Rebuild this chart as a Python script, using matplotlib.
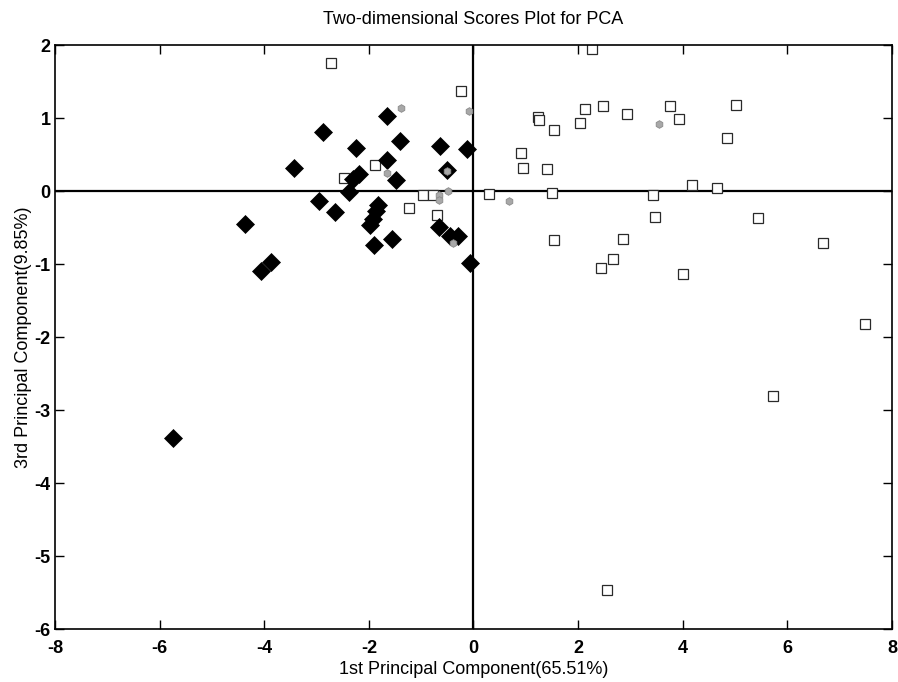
import matplotlib
matplotlib.use("Agg")
import matplotlib.pyplot as plt

plt.rcParams["font.family"] = ["Liberation Sans", "DejaVu Sans"]
plt.rcParams["axes.unicode_minus"] = False

# group 1: filled black diamonds
diamond_x = [-5.75, -4.37, -3.87, -4.06, -3.44, -2.88, -2.25, -2.18, -2.30, -2.38,
             -2.95, -2.65, -1.65, -1.41, -1.65, -1.48, -1.82, -1.86, -1.92, -1.97,
             -1.56, -1.90, -0.64, -0.13, -0.51, -0.65, -0.44, -0.29, -0.07]
diamond_y = [-3.38, -0.45, -0.97, -1.10, 0.32, 0.81, 0.59, 0.23, 0.16, -0.01,
             -0.13, -0.29, 1.03, 0.68, 0.43, 0.15, -0.19, -0.28, -0.39, -0.46,
             -0.66, -0.74, 0.62, 0.58, 0.29, -0.49, -0.61, -0.62, -0.99]

# group 2: open squares
square_x = [-2.73, -0.23, -1.88, -2.48, -1.23, -0.96, -0.77, -0.70, 0.30,
            2.26, 2.13, 2.47, 2.94, 3.76, 3.93, 1.24, 1.26, 1.54, 2.04,
            0.91, 0.95, 1.40, 1.51, 3.44, 3.47, 1.54, 2.86, 2.66, 2.43, 4.01,
            5.01, 4.84, 4.18, 4.66, 5.43, 6.68, 7.49, 5.73, 2.55]
square_y = [1.76, 1.37, 0.36, 0.18, -0.23, -0.06, -0.06, -0.33, -0.04,
            1.95, 1.12, 1.16, 1.05, 1.17, 0.99, 1.02, 0.97, 0.83, 0.93,
            0.52, 0.32, 0.30, -0.03, -0.05, -0.36, -0.67, -0.66, -0.93, -1.05, -1.14,
            1.18, 0.73, 0.08, 0.04, -0.37, -0.71, -1.82, -2.81, -5.47]

# group 3: small grey markers
grey_x = [-1.38, -0.08, -1.66, -0.50, -0.48, -0.65, -0.65, -0.39, 3.55, 0.68]
grey_y = [1.14, 1.10, 0.24, 0.28, 0.00, -0.05, -0.12, -0.71, 0.92, -0.14]

fig = plt.figure(figsize=(8.98, 6.82), dpi=100)
ax = fig.add_axes([0.0612, 0.0777, 0.9321, 0.8563])

ax.axhline(0, color="black", linewidth=1.6, zorder=1)
ax.axvline(0, color="black", linewidth=1.6, zorder=1)

ax.plot(square_x, square_y, linestyle="none", marker="s", markersize=7.0,
        markerfacecolor="white", markeredgecolor="#2a2a2a", markeredgewidth=0.9, zorder=2)
ax.plot(diamond_x, diamond_y, linestyle="none", marker="D", markersize=8.7,
        markerfacecolor="black", markeredgecolor="black", markeredgewidth=0.5, zorder=3)
ax.plot(grey_x, grey_y, linestyle="none", marker="h", markersize=5.5,
        markerfacecolor="#a8a8a8", markeredgecolor="#8a8a8a", markeredgewidth=0.6, zorder=4)

ax.set_xlim(-8, 8)
ax.set_ylim(-6, 2)
ax.set_xticks(range(-8, 9, 2))
ax.set_yticks(range(-6, 3, 1))
ax.tick_params(direction="in", length=6.5, width=1.0, top=True, right=True,
               labelsize=13)
ax.tick_params(axis="x", pad=8)
ax.tick_params(axis="y", pad=3)
for lbl in ax.get_xticklabels() + ax.get_yticklabels():
    lbl.set_fontweight("bold")
for sp in ax.spines.values():
    sp.set_linewidth(1.2)

ax.set_title("Two-dimensional Scores Plot for PCA", fontsize=13, pad=15)
ax.set_xlabel("1st Principal Component(65.51%)", fontsize=13, labelpad=3)
ax.set_ylabel("3rd Principal Component(9.85%)", fontsize=13, labelpad=2)

fig.savefig("out.png", dpi=100)
